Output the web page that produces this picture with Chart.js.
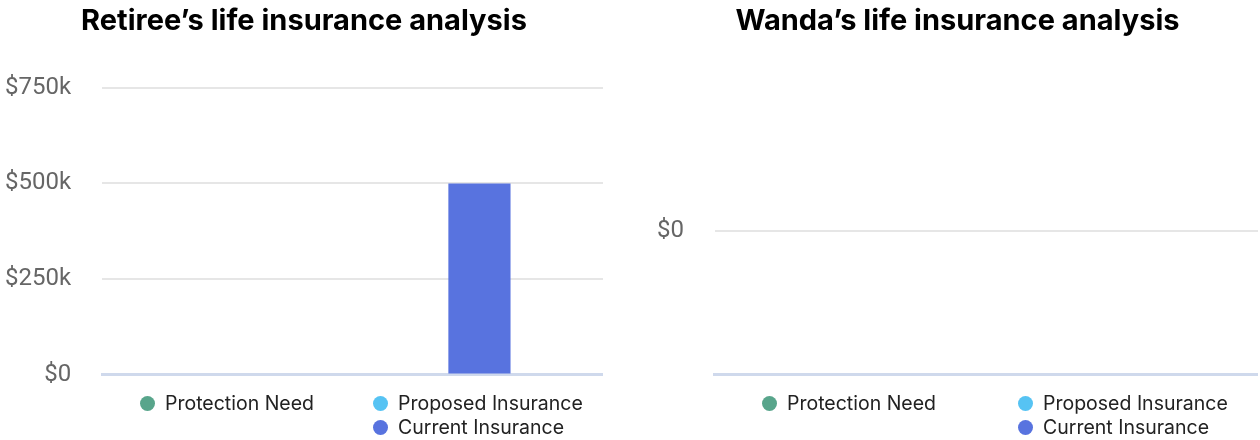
<!DOCTYPE html>
<html>
<head>
<meta charset="utf-8">
<script src="https://cdn.jsdelivr.net/npm/chart.js@4.4.1/dist/chart.umd.min.js"></script>
<style>
  html, body { margin: 0; padding: 0; background: #fff; }
  body { width: 1260px; height: 440px; position: relative; overflow: hidden; font-family: Inter, sans-serif; }
  canvas { position: absolute; top: 0; }
  .legend { position: absolute; display: grid; row-gap: 4px; font-size: 19.5px; color: #222; }
  .legend .item { display: flex; align-items: center; height: 20px; white-space: nowrap; }
  .legend .dot { width: 15px; height: 15px; border-radius: 50%; margin-right: 10px; }
</style>
</head>
<body>
<canvas id="retiree" width="603" height="420" style="left:0"></canvas>
<canvas id="wanda" width="606" height="420" style="left:652px"></canvas>
<div class="legend" id="retireeLegend" style="left:140px;top:393px;grid-template-columns:233px auto"></div>
<div class="legend" id="wandaLegend" style="left:762px;top:393px;grid-template-columns:256px auto"></div>
<script>
// series shown in both charts
const seriesNames = ["Protection Need", "Proposed Insurance", "Current Insurance"];
const seriesColors = ["#58a58b", "#56c3f3", "#5873df"];

// amounts per person, in dollars
const retireeValues = [0, 0, 500000];
const wandaValues = [0, 0, 0];

// y ticks that get a label
const retireeTicks = [0, 250000, 500000, 750000];

function money(v) {
  if (v === 0) return "$0";
  return "$" + v / 1000 + "k";
}

function makeChart(id, title, values, maxValue) {
  const datasets = seriesNames.map((name, i) => ({
    label: name,
    data: [values[i]],
    backgroundColor: seriesColors[i],
    borderWidth: 0,
    categoryPercentage: 0.76,
    barPercentage: 0.49,
  }));

  const yScale = {
    grid: { color: "#e6e6e6", lineWidth: 2, drawTicks: false },
    border: { display: false },
    ticks: {
      padding: 31,
      color: "#666",
      font: { family: "Roboto", size: 24 },
      callback: (v) => (v % 250000 === 0 ? money(v) : null),
    },
    // tick padding gets counted twice in the axis width, take one back
    afterFit: (scale) => {
      scale.width -= scale.options.ticks.padding;
    },
  };
  if (maxValue) {
    yScale.min = 0;
    yScale.max = maxValue;
    yScale.ticks.stepSize = 250000;
  } else {
    // nothing to show yet: keep $0 in the middle
    yScale.beginAtZero = false;
  }

  return new Chart(document.getElementById(id), {
    type: "bar",
    data: { labels: [""], datasets: datasets },
    options: {
      responsive: false,
      animation: false,
      layout: { padding: { left: 5, right: 0, bottom: 0 } },
      plugins: {
        legend: { display: false },
        tooltip: { enabled: false },
        title: {
          display: true,
          text: title,
          color: "#000",
          font: { family: "Inter", size: 29, weight: "bold" },
          padding: { top: 4, bottom: 49 },
        },
      },
      scales: {
        x: {
          grid: { display: false },
          ticks: { display: false },
          border: { color: "#cfd9ec", width: 3 },
        },
        y: yScale,
      },
    },
  });
}

function makeLegend(id) {
  const el = document.getElementById(id);
  const spots = [[1, 1], [2, 1], [2, 2]];
  seriesNames.forEach((name, i) => {
    const item = document.createElement("div");
    item.className = "item";
    item.style.gridColumn = spots[i][0];
    item.style.gridRow = spots[i][1];
    item.innerHTML = '<span class="dot" style="background:' + seriesColors[i] + '"></span>' + name;
    el.appendChild(item);
  });
}

makeChart("retiree", "Retiree’s life insurance analysis", retireeValues, retireeTicks[retireeTicks.length - 1]);
makeChart("wanda", "Wanda’s life insurance analysis", wandaValues, null);
makeLegend("retireeLegend");
makeLegend("wandaLegend");
</script>
</body>
</html>
